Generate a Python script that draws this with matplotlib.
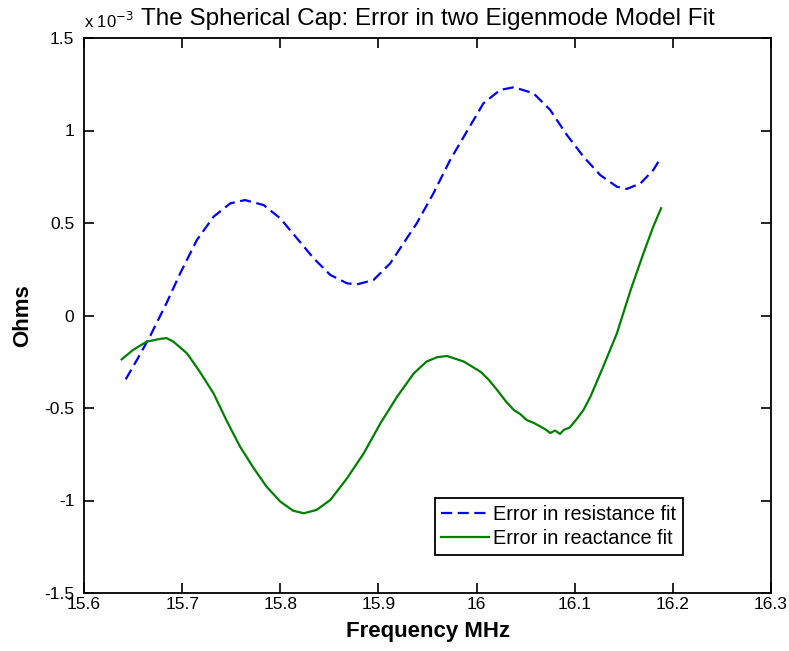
import matplotlib
matplotlib.use("Agg")
import matplotlib.pyplot as plt

plt.rcParams['font.family'] = ['Liberation Sans', 'DejaVu Sans']

# error curves, values in units of 1e-3 ohm
res_freq = [15.6425, 15.655, 15.667, 15.684, 15.698, 15.715, 15.732, 15.749, 15.764,
            15.783, 15.800, 15.817, 15.834, 15.851, 15.868, 15.878, 15.895, 15.912,
            15.922, 15.939, 15.956, 15.973, 15.990, 16.007, 16.024, 16.038, 16.058,
            16.075, 16.092, 16.109, 16.126, 16.143, 16.153, 16.167, 16.180, 16.188]
res_err = [-0.345, -0.23, -0.115, 0.066, 0.228, 0.408, 0.534, 0.606, 0.624,
           0.597, 0.525, 0.417, 0.309, 0.219, 0.174, 0.168, 0.192, 0.282,
           0.362, 0.498, 0.66, 0.84, 0.994, 1.147, 1.219, 1.234, 1.201,
           1.111, 0.976, 0.858, 0.759, 0.696, 0.684, 0.714, 0.786, 0.855]

reac_freq = [15.6384, 15.650, 15.664, 15.677, 15.684, 15.691, 15.705, 15.718, 15.732,
             15.745, 15.759, 15.773, 15.786, 15.800, 15.813, 15.824, 15.837, 15.851,
             15.868, 15.885, 15.902, 15.919, 15.936, 15.949, 15.960, 15.970, 15.987,
             16.004, 16.012, 16.021, 16.030, 16.038, 16.045, 16.051, 16.058, 16.065,
             16.070, 16.075, 16.080, 16.085, 16.089, 16.095, 16.102, 16.109, 16.116,
             16.129, 16.143, 16.157, 16.170, 16.180, 16.188]
reac_err = [-0.237, -0.186, -0.141, -0.127, -0.122, -0.141, -0.205, -0.304, -0.421,
            -0.565, -0.709, -0.826, -0.925, -1.006, -1.055, -1.069, -1.051, -0.997,
            -0.880, -0.745, -0.583, -0.439, -0.313, -0.249, -0.225, -0.219, -0.249,
            -0.304, -0.345, -0.403, -0.465, -0.511, -0.535, -0.565, -0.580, -0.600,
            -0.615, -0.635, -0.622, -0.640, -0.618, -0.605, -0.560, -0.510, -0.439,
            -0.277, -0.096, 0.138, 0.336, 0.48, 0.58]

x_ticks = [15.6, 15.7, 15.8, 15.9, 16.0, 16.1, 16.2, 16.3]
x_labels = ['15.6', '15.7', '15.8', '15.9', '16', '16.1', '16.2', '16.3']
y_ticks = [-1.5, -1, -0.5, 0, 0.5, 1, 1.5]
y_labels = ['-1.5', '-1', '-0.5', '0', '0.5', '1', '1.5']

fig = plt.figure(figsize=(7.89, 6.51), dpi=100)
ax = fig.add_axes([84 / 789, 58 / 651, 687 / 789, 555 / 651])

ax.plot(res_freq, res_err, color=(0, 0, 1), lw=1.6, dashes=(5, 2.5),
        label='Error in resistance fit')
ax.plot(reac_freq, reac_err, color=(0, 0.5, 0), lw=1.6,
        label='Error in reactance fit')

ax.set_xlim(15.6, 16.3)
ax.set_ylim(-1.5, 1.5)
ax.set_xticks(x_ticks)
ax.set_xticklabels(x_labels)
ax.set_yticks(y_ticks)
ax.set_yticklabels(y_labels)
ax.tick_params(direction='in', length=7, width=1.2, top=True, right=True,
               labelsize=12.5)
ax.tick_params(axis='x', pad=3)
ax.tick_params(axis='y', pad=7)
for s in ax.spines.values():
    s.set_linewidth(1.3)

ax.set_xlabel('Frequency MHz', fontsize=16, fontweight='bold', labelpad=6)
ax.set_ylabel('Ohms', fontsize=16, fontweight='bold', labelpad=8)
ax.set_title('The Spherical Cap: Error in two Eigenmode Model Fit', fontsize=17.5, pad=9)
ax.text(0.0, 1.012, r'x 10$^{-3}$', transform=ax.transAxes, fontsize=12,
        ha='left', va='bottom')

leg = ax.legend(loc='lower right', bbox_to_anchor=(0.872, 0.068), fontsize=14.3,
                fancybox=False, framealpha=1, edgecolor='black',
                handlelength=2.4, borderpad=0.35, labelspacing=0.25,
                handletextpad=0.2, borderaxespad=0)
leg.get_frame().set_linewidth(1.3)

fig.savefig('out.png', dpi=100)
